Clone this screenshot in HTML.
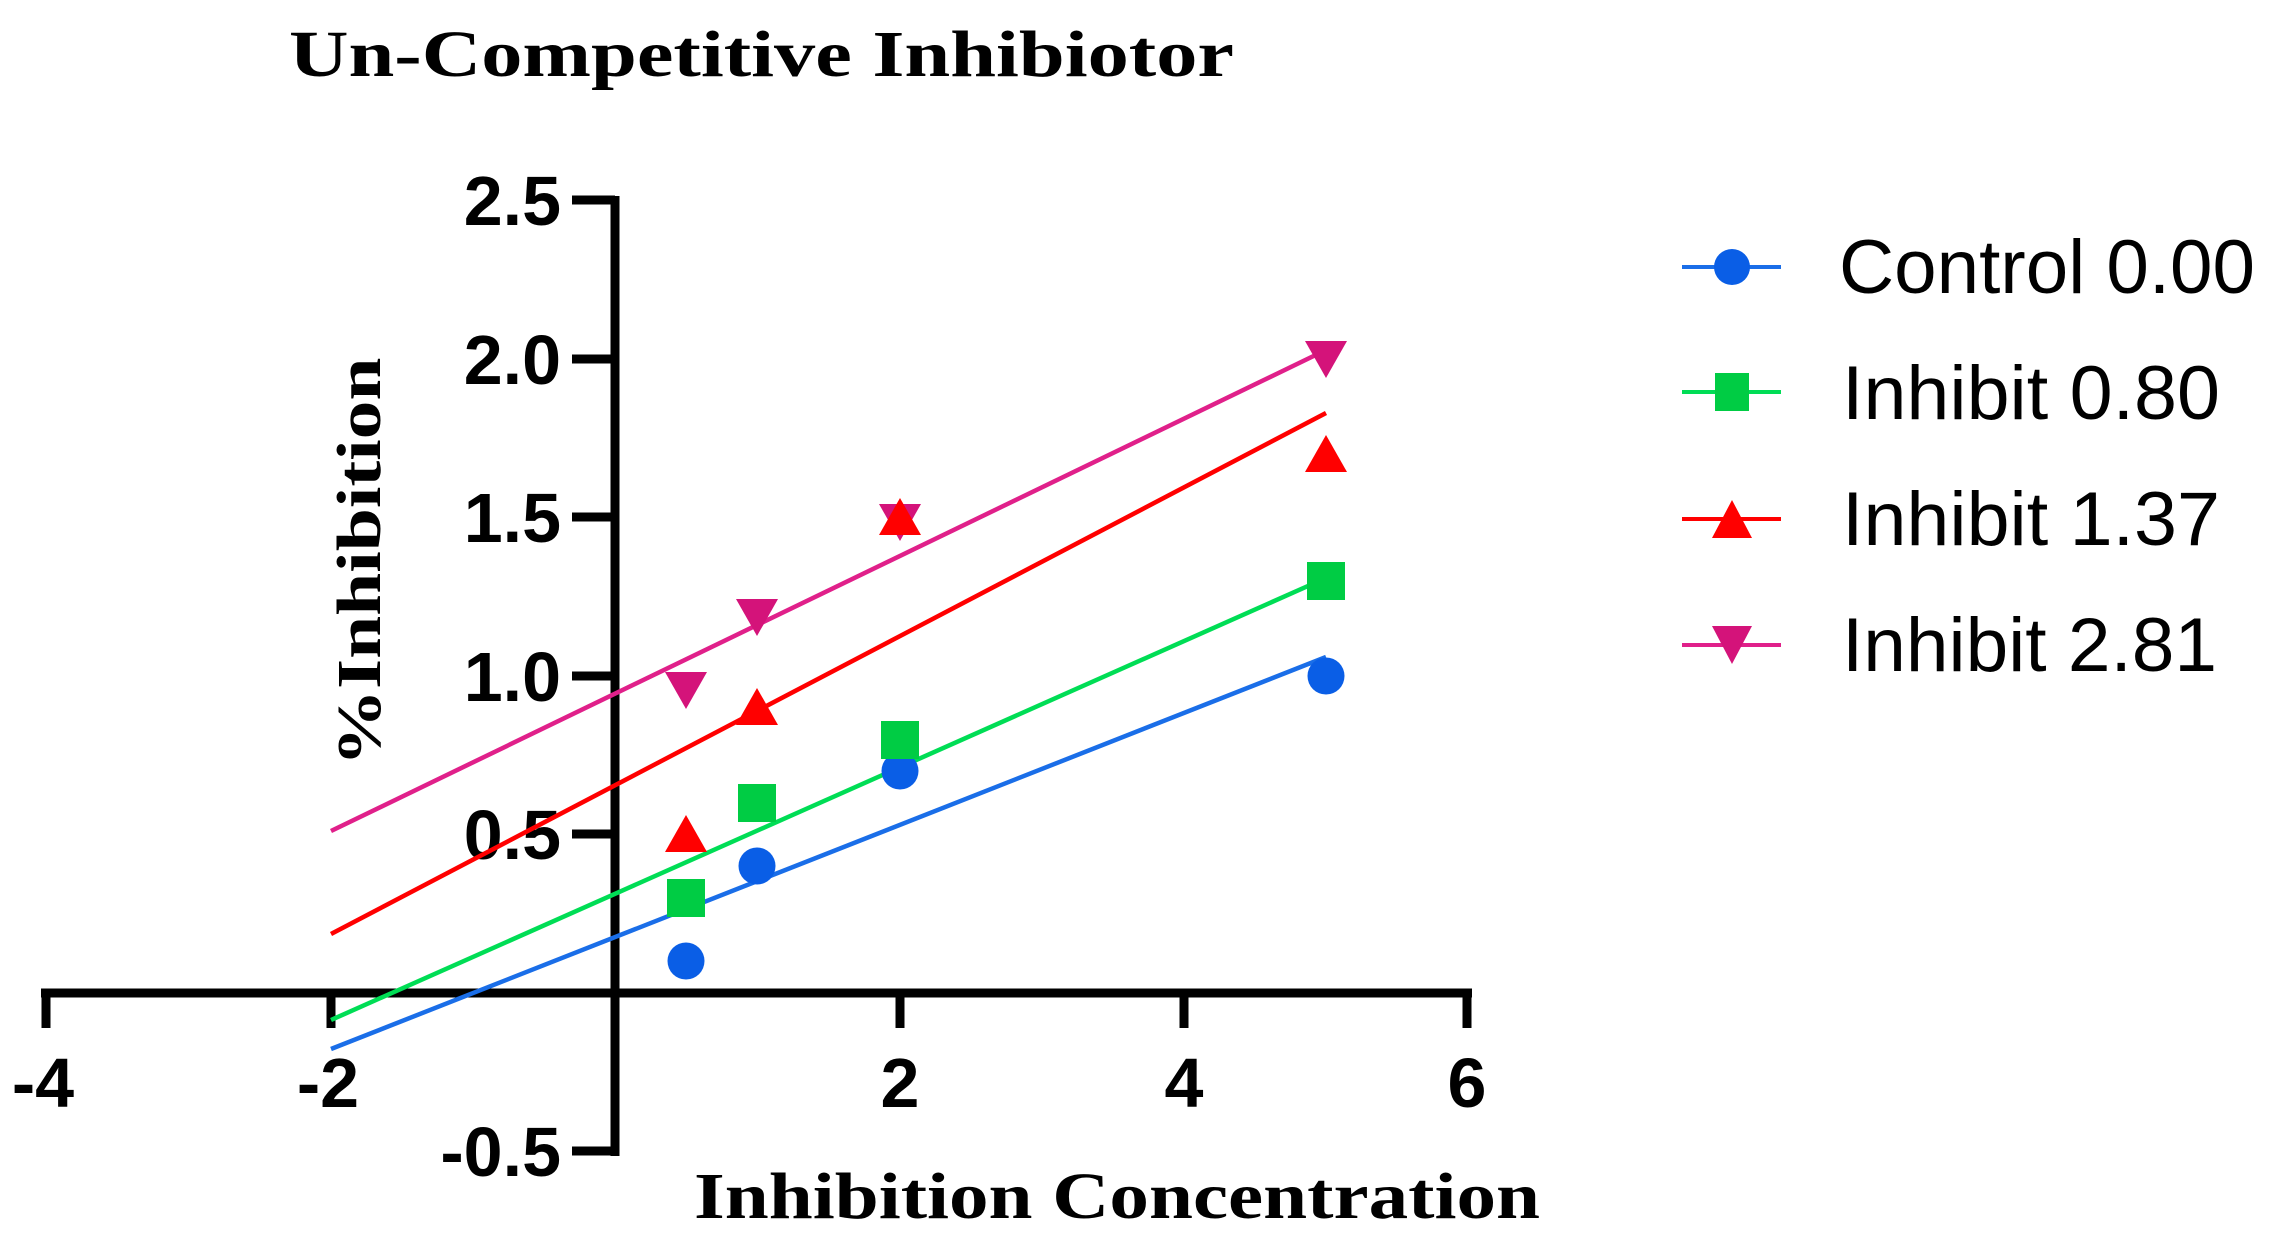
<!DOCTYPE html>
<html><head><meta charset="utf-8"><style>html,body{margin:0;padding:0;background:#fff;}svg{display:block}</style></head>
<body>
<svg width="2277" height="1248" viewBox="0 0 2277 1248" xmlns="http://www.w3.org/2000/svg">
<rect width="2277" height="1248" fill="#fff"/>
<text x="289" y="76" font-family="Liberation Serif, serif" font-weight="bold" font-size="66" textLength="945" lengthAdjust="spacingAndGlyphs">Un-Competitive Inhibiotor</text>
<text transform="translate(380,562) rotate(-90)" text-anchor="middle" font-family="Liberation Serif, serif" font-weight="bold" font-size="62" textLength="409" lengthAdjust="spacingAndGlyphs">%Inhibition</text>
<text x="694" y="1218" font-family="Liberation Serif, serif" font-weight="bold" font-size="66" textLength="846" lengthAdjust="spacingAndGlyphs">Inhibition Concentration</text>
<g transform="translate(-5,0)">
<g stroke="#000" stroke-width="9" fill="none">
<line x1="620" y1="196" x2="620" y2="1156"/>
<line x1="46" y1="993" x2="1477" y2="993"/>
<line x1="577" y1="200" x2="620" y2="200"/>
<line x1="577" y1="359" x2="620" y2="359"/>
<line x1="577" y1="517" x2="620" y2="517"/>
<line x1="577" y1="676" x2="620" y2="676"/>
<line x1="577" y1="834" x2="620" y2="834"/>
<line x1="577" y1="1151" x2="620" y2="1151"/>
<line x1="51" y1="993" x2="51" y2="1028"/>
<line x1="336" y1="993" x2="336" y2="1028"/>
<line x1="905" y1="993" x2="905" y2="1028"/>
<line x1="1189" y1="993" x2="1189" y2="1028"/>
<line x1="1472" y1="993" x2="1472" y2="1028"/>
</g>
<g font-family="Liberation Sans, sans-serif" font-weight="bold" font-size="70" text-anchor="end">
<text x="566" y="225">2.5</text>
<text x="566" y="384">2.0</text>
<text x="566" y="542">1.5</text>
<text x="566" y="701">1.0</text>
<text x="566" y="859">0.5</text>
<text x="566" y="1176">-0.5</text>
</g>
<g font-family="Liberation Sans, sans-serif" font-weight="bold" font-size="70" text-anchor="middle">
<text x="48" y="1107">-4</text>
<text x="333" y="1107">-2</text>
<text x="905" y="1107">2</text>
<text x="1189" y="1107">4</text>
<text x="1472" y="1107">6</text>
</g>
<g stroke-width="4.5">
<line x1="336" y1="1049" x2="1331" y2="657" stroke="#1a6ee8"/>
<line x1="336" y1="1020" x2="1331" y2="578" stroke="#00dd55"/>
<line x1="336" y1="934" x2="1331" y2="413" stroke="#ff0000"/>
<line x1="336" y1="831" x2="1331" y2="350" stroke="#e0208a"/>
</g>
<g fill="#0a5ee6">
<circle cx="691" cy="961" r="18.5"/>
<circle cx="762" cy="866" r="18.5"/>
<circle cx="905" cy="771" r="18.5"/>
<circle cx="1331" cy="676" r="18.5"/>
</g>
<g fill="#00cc44">
<rect x="672" y="879" width="38" height="38"/>
<rect x="743" y="784" width="38" height="38"/>
<rect x="886" y="721" width="38" height="38"/>
<rect x="1312" y="562" width="38" height="38"/>
</g>
<g fill="#d4137a">
<polygon points="670,672 712,672 691,709"/>
<polygon points="741,599 783,599 762,636"/>
<polygon points="884,504 926,504 905,541"/>
<polygon points="1310,341 1352,341 1331,378"/>
</g>
<g fill="#ff0000">
<polygon points="691,815 670,852 712,852"/>
<polygon points="762,688 741,725 783,725"/>
<polygon points="905,498 884,535 926,535"/>
<polygon points="1331,435 1310,472 1352,472"/>
</g>
</g>
<g transform="translate(-8,0)">
<g stroke-width="4">
<line x1="1690" y1="267" x2="1789" y2="267" stroke="#1a6ee8"/>
<line x1="1690" y1="392" x2="1789" y2="392" stroke="#00dd55"/>
<line x1="1690" y1="519" x2="1789" y2="519" stroke="#ff0000"/>
<line x1="1690" y1="645" x2="1789" y2="645" stroke="#e0208a"/>
</g>
<circle cx="1740" cy="267" r="18" fill="#0a5ee6"/>
<rect x="1723" y="373" width="34" height="38" fill="#00cc44"/>
<polygon points="1740,500 1720,538 1760,538" fill="#ff0000"/>
<polygon points="1720,626 1760,626 1740,664" fill="#d4137a"/>
<g font-family="Liberation Sans, sans-serif" font-size="76" fill="#000">
<text x="1847" y="293" textLength="416" lengthAdjust="spacingAndGlyphs">Control 0.00</text>
<text x="1850" y="419" textLength="378" lengthAdjust="spacingAndGlyphs">Inhibit 0.80</text>
<text x="1850" y="545" textLength="378" lengthAdjust="spacingAndGlyphs">Inhibit 1.37</text>
<text x="1850" y="671" textLength="375" lengthAdjust="spacingAndGlyphs">Inhibit 2.81</text>
</g>
</g>
</svg>
</body></html>
